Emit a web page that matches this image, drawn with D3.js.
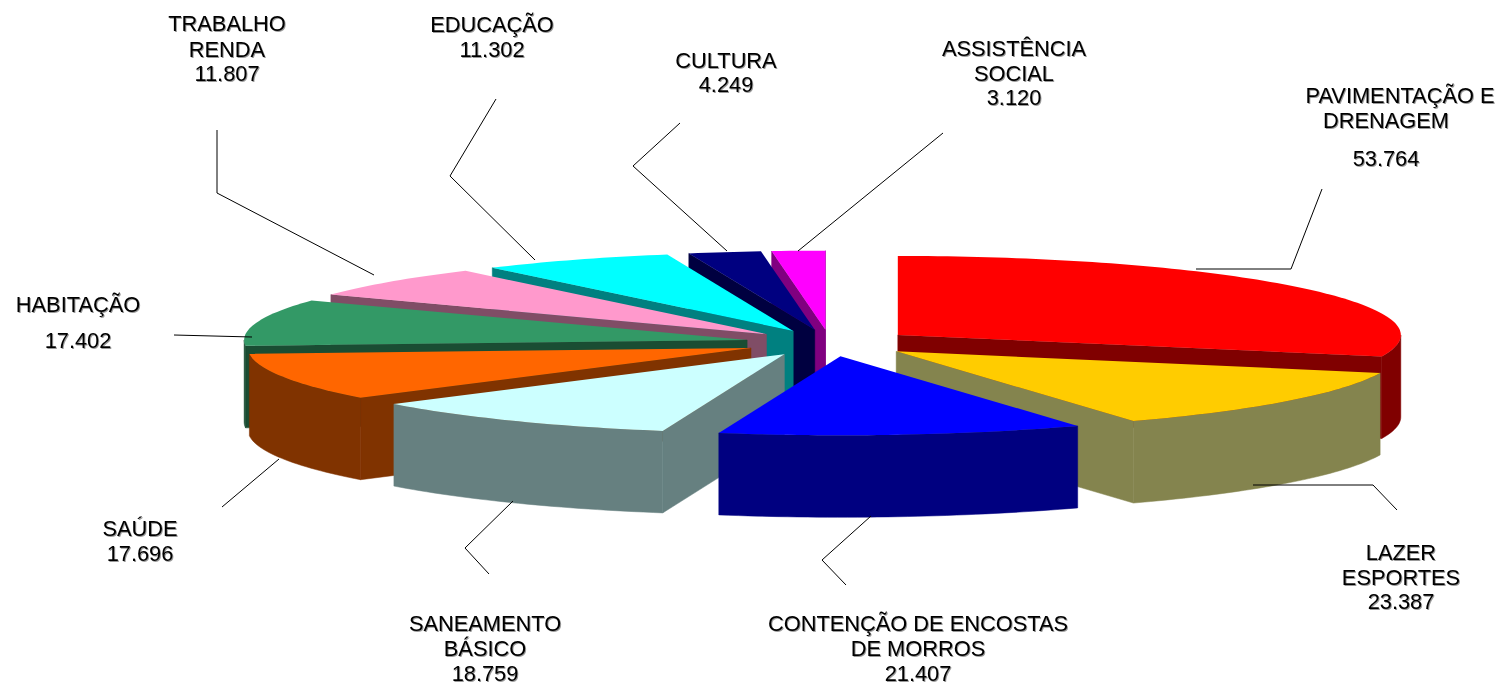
<!DOCTYPE html>
<html>
<head>
<meta charset="utf-8">
<title>Pizza 3D</title>
<script src="https://cdn.jsdelivr.net/npm/d3@7"></script>
<style>
  body { margin: 0; background: #fff; }
  svg { display: block; }
  text { font-family: "Liberation Sans", Arial, sans-serif; font-size: 21.8px; fill: #000; }
</style>
</head>
<body>
<div id="chart"></div>
<script>
// data
const categories = ["PAVIMENTAÇÃO E DRENAGEM", "LAZER ESPORTES", "CONTENÇÃO DE ENCOSTAS DE MORROS", "SANEAMENTO BÁSICO", "SAÚDE", "HABITAÇÃO", "TRABALHO RENDA", "EDUCAÇÃO", "CULTURA", "ASSISTÊNCIA SOCIAL"];
const values = [53764, 23387, 21407, 18759, 17696, 17402, 11807, 11302, 4249, 3120];
const topColors = ["#ff0000", "#ffcc00", "#0000ff", "#ccffff", "#ff6600", "#339966", "#ff99cc", "#00ffff", "#000080", "#ff00ff"];
const sideColors = ["#800000", "#84844e", "#000080", "#668080", "#803300", "#1a4d33", "#804d66", "#008080", "#000040", "#800080"];
const labelLines = [
    ["PAVIMENTAÇÃO E", "DRENAGEM"],
    ["LAZER", "ESPORTES"],
    ["CONTENÇÃO DE ENCOSTAS", "DE MORROS"],
    ["SANEAMENTO", "BÁSICO"],
    ["SAÚDE"],
    ["HABITAÇÃO"],
    ["TRABALHO", "RENDA"],
    ["EDUCAÇÃO"],
    ["CULTURA"],
    ["ASSISTÊNCIA", "SOCIAL"]
];

// layout of the annotations, one entry per category
const labelX = [[1400, 1386, 1386], [1401, 1401, 1401], [918, 918, 918], [485, 485, 485], [140, 140], [78, 78], [227, 227, 227], [492, 492], [726, 726], [1014, 1014, 1014]];
const labelY = [[103, 128, 166], [560, 585, 609], [631, 656, 681], [631, 656, 681], [536, 561], [312, 348], [31, 57, 81], [32, 57], [68, 92], [56, 81, 105]];
const leaders = [
    [[1196, 269], [1291, 269], [1322, 189]],
    [[1253, 485], [1373, 485], [1397, 510]],
    [[871, 516], [822, 560], [846, 585]],
    [[513, 501], [465, 548], [489, 574]],
    [[279, 459], [222, 507]],
    [[174, 335], [252, 337]],
    [[374, 275], [217, 193], [217, 130]],
    [[535, 260], [450, 176], [496, 99]],
    [[727, 251], [633, 166], [680, 123]],
    [[798, 251], [943, 133]]
];

const width = 1499, height = 685;
const cx = 830, cy = 343, rx = 503, ry = 79, depth = 82, explode = 85;
// back slices first, the big front ones on top
const drawOrder = [9, 8, 7, 6, 5, 4, 3, 0, 1, 2];

let svg = d3.select("#chart")
    .append("svg")
    .attr("width", width)
    .attr("height", height);

let defs = svg.append("defs");
let shadow = defs.append("filter").attr("id", "txtshadow")
    .attr("x", "-5%").attr("y", "-20%").attr("width", "110%").attr("height", "140%");
shadow.append("feDropShadow")
    .attr("dx", 1).attr("dy", 1)
    .attr("stdDeviation", 0.6)
    .attr("flood-color", "#000")
    .attr("flood-opacity", 0.4);

let pie = d3.pie().sort(null).value(function(d) { return d; });
let slices = pie(values);

let toPath = d3.line();

// point on the tilted disc of a slice, angle clockwise from the top
function project(d, angle, r, drop) {
    let mid = (d.startAngle + d.endAngle) / 2;
    let ox = cx + explode * Math.sin(mid);
    let oy = cy - explode * (ry / rx) * Math.cos(mid);
    return [ox + r * rx * Math.sin(angle), oy - r * ry * Math.cos(angle) + drop];
}

function arcAngles(a0, a1) {
    let n = Math.max(2, Math.ceil((a1 - a0) / 0.02));
    return d3.range(n + 1).map(function(i) { return a0 + (a1 - a0) * i / n; });
}

function radialWall(d, angle) {
    return toPath([project(d, 0, 0, 0), project(d, angle, 1, 0), project(d, angle, 1, depth), project(d, 0, 0, depth)]) + "Z";
}

let pieG = svg.append("g").attr("class", "pie");

drawOrder.forEach(function(i) {
    let d = slices[i];
    let g = pieG.append("g").attr("class", "slice");
    let side = sideColors[i];

    // only the walls that face the viewer
    if (Math.sin(d.startAngle) < 0) {
        g.append("path").attr("d", radialWall(d, d.startAngle)).attr("fill", side).attr("stroke", side).attr("stroke-width", 0.5);
    }
    if (Math.sin(d.endAngle) > 0) {
        g.append("path").attr("d", radialWall(d, d.endAngle)).attr("fill", side).attr("stroke", side).attr("stroke-width", 0.5);
    }

    let a0 = Math.max(d.startAngle, Math.PI / 2);
    let a1 = Math.min(d.endAngle, Math.PI * 3 / 2);
    if (a1 > a0) {
        let angles = arcAngles(a0, a1);
        let upper = angles.map(function(a) { return project(d, a, 1, 0); });
        let lower = angles.slice().reverse().map(function(a) { return project(d, a, 1, depth); });
        g.append("path")
            .attr("d", toPath(upper.concat(lower)) + "Z")
            .attr("fill", side)
            .attr("stroke", side)
            .attr("stroke-width", 0.5);
    }

    let rim = arcAngles(d.startAngle, d.endAngle).map(function(a) { return project(d, a, 1, 0); });
    g.append("path")
        .attr("d", toPath([project(d, 0, 0, 0)].concat(rim)) + "Z")
        .attr("fill", topColors[i]);
});

// leader lines
svg.append("g")
    .attr("class", "leaders")
    .selectAll("path")
    .data(leaders)
    .enter().append("path")
    .attr("d", function(d) { return toPath(d); })
    .attr("fill", "none")
    .attr("stroke", "#000")
    .attr("stroke-width", 1);

// labels
let fmt = d3.formatLocale({decimal: ",", thousands: ".", grouping: [3], currency: ["R$", ""]}).format(",d");

let labels = svg.append("g")
    .attr("class", "labels")
    .attr("filter", "url(#txtshadow)")
    .selectAll("g")
    .data(categories)
    .enter().append("g");

labels.each(function(d, i) {
    let lines = labelLines[i].concat([fmt(values[i])]);
    d3.select(this).selectAll("text")
        .data(lines)
        .enter().append("text")
        .attr("x", function(t, j) { return labelX[i][j]; })
        .attr("y", function(t, j) { return labelY[i][j]; })
        .style("text-anchor", "middle")
        .text(function(t) { return t; });
});
</script>
</body>
</html>
